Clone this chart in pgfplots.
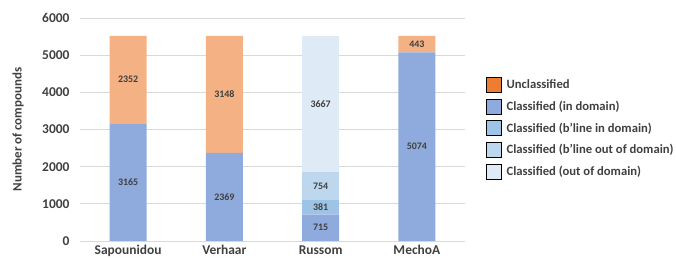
\documentclass[border=0pt]{standalone}
\usepackage{pgfplots}
\pgfplotsset{compat=1.18}
\usepackage{fontspec}
\setmainfont{Carlito}
\definecolor{cunc}{HTML}{F4B183}
\definecolor{cunclg}{HTML}{ED7D31}
\definecolor{cin}{HTML}{8FAADC}
\definecolor{cbin}{HTML}{9DC3E6}
\definecolor{cbout}{HTML}{BDD7EE}
\definecolor{cout}{HTML}{DEEBF7}
\definecolor{txt}{HTML}{404040}
\pgfkeys{/pgf/number format/1000 sep={}}
\pgfplotsset{
  common/.style={
    at={(80bp,18bp)}, anchor=south west,
    scale only axis, width=385bp, height=223bp,
    xmin=-0.5, xmax=3.5, ymin=0, ymax=6000,
  },
}
\begin{document}
\begin{tikzpicture}
\path[use as bounding box] (0,0) rectangle (676bp,259bp);
\begin{axis}[
  common,
  ybar stacked, bar width=37bp,
  xtick={0,1,2,3}, xticklabels={Sapounidou,Verhaar,Russom,MechoA},
  ytick={0,1000,...,6000},
  axis line style={draw=none},
  major tick length=0pt,
  ymajorgrids, grid style={draw=black!15, line width=0.8bp},
  /pgf/number format/assume math mode=true,
  ticklabel style={font=\bfseries\fontsize{13.5}{14}\selectfont, text=txt},
  yticklabel style={xshift=-7bp},
  xticklabel style={yshift=-1bp},
  ylabel={Number of compounds},
  ylabel style={at={(axis description cs:-0.161,0.5)}, anchor=center, font=\bfseries\fontsize{13}{14}\selectfont, text=txt},
  legend image code/.code={\fill[#1] (0bp,-7.5bp) rectangle (15bp,7.5bp);},
  legend style={at={(axis description cs:1.0545,0.738)}, anchor=north west, draw=none, fill=none, inner sep=0pt, row sep=6.5bp,
    font=\bfseries\fontsize{12.7}{13}\selectfont, text=txt, cells={anchor=west},
    nodes={inner xsep=5bp}},
  legend cell align=left,
]
\addplot[fill=cin, draw=none, forget plot] coordinates {(0,3165) (1,2369) (2,715) (3,5074)};
\addplot[fill=cbin, draw=none, forget plot] coordinates {(0,0) (1,0) (2,381) (3,0)};
\addplot[fill=cbout, draw=none, forget plot] coordinates {(0,0) (1,0) (2,754) (3,0)};
\addplot[fill=cout, draw=none, forget plot] coordinates {(0,0) (1,0) (2,3667) (3,0)};
\addplot[fill=cunc, draw=none, forget plot] coordinates {(0,2352) (1,3148) (2,0) (3,443)};
\addlegendimage{fill=cunclg}
\addlegendentry{Unclassified}
\addlegendimage{fill=cin}
\addlegendentry{Classified (in domain)}
\addlegendimage{fill=cbin}
\addlegendentry{Classified (b’line in domain)}
\addlegendimage{fill=cbout}
\addlegendentry{Classified (b’line out of domain)}
\addlegendimage{fill=cout}
\addlegendentry{Classified (out of domain)}
\end{axis}
\begin{axis}[common, hide axis, clip=false]
\addplot[draw=none, mark=none, point meta=explicit symbolic, nodes near coords,
  every node near coord/.append style={anchor=center, font=\bfseries\fontsize{10}{10}\selectfont, text=txt}]
  coordinates {
  (0,1582.5) [3165] (0,4341) [2352]
  (1,1184.5) [2369] (1,3943) [3148]
  (2,357.5) [715] (2,905.5) [381] (2,1473) [754] (2,3683.5) [3667]
  (3,2537) [5074] (3,5295.5) [443]
  };
\end{axis}
\end{tikzpicture}
\end{document}
